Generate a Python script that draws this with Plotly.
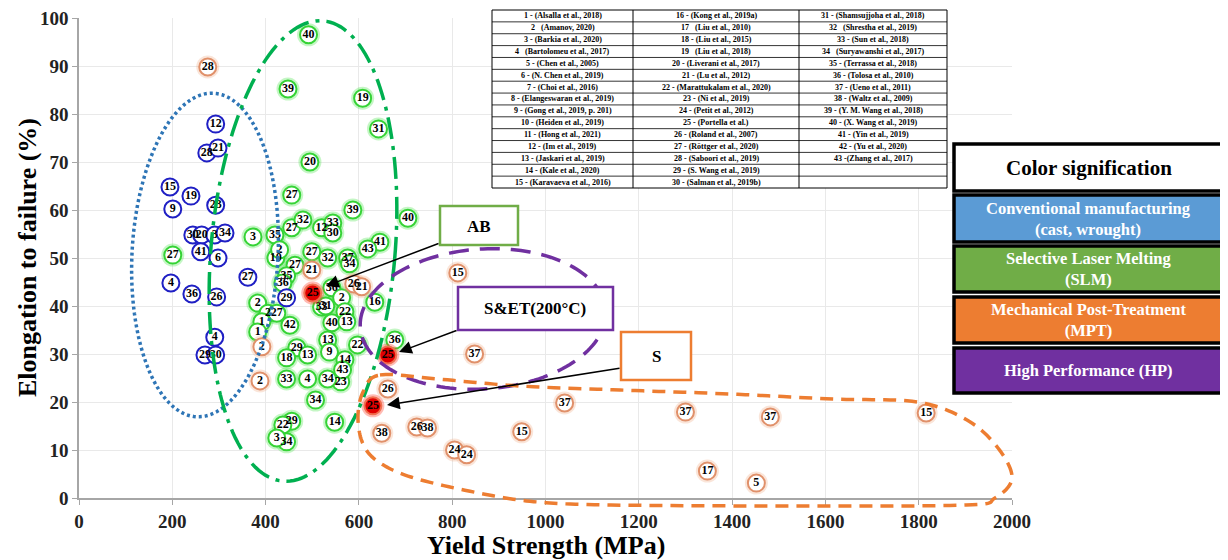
import numpy as np
import plotly.graph_objects as go

# ---------------- data (yield strength MPa, elongation %) ----------------
conv_x = [274, 298, 293, 195, 240, 201, 293, 244, 263, 291, 313, 261, 298, 362, 197, 242, 295, 291, 270, 293, 445]
conv_y = [71.9, 72.9, 77.9, 64.8, 62.9, 60.2, 61.0, 54.8, 54.8, 54.8, 55.2, 51.3, 50.0, 46.0, 44.8, 42.5, 41.9, 33.5, 29.8, 29.8, 41.7]
conv_lbl = ["28", "21", "12", "15", "19", "9", "23", "30", "20", "3", "34", "41", "6", "27", "4", "36", "26", "4", "29", "30", "29"]

slm_x = [492, 448, 608, 642, 495, 456, 587, 705, 373, 420, 456, 480, 520, 544, 544, 499, 533, 422, 430, 463,
         445, 437, 383, 405, 424, 392, 383, 452, 520, 542, 542, 533, 467, 490, 445, 537, 445, 490, 507, 548,
         456, 437, 445, 424, 561, 533, 645, 619, 576, 580, 634, 563, 570, 574, 597, 677, 570, 201, 565, 529]
slm_y = [96.5, 85.2, 83.3, 76.9, 70.0, 63.1, 60.0, 58.3, 54.4, 54.8, 56.3, 57.9, 56.3, 57.3, 55.2, 51.3, 50.0, 50.0, 51.7, 48.5,
         46.3, 44.8, 40.6, 38.5, 38.5, 36.7, 34.6, 36.0, 39.8, 43.8, 36.5, 32.9, 31.3, 29.8, 29.2, 30.4, 24.8, 24.8, 20.4, 15.8,
         16.0, 15.2, 11.7, 12.5, 24.2, 24.8, 53.3, 51.9, 50.0, 48.8, 40.8, 41.7, 38.8, 36.7, 31.9, 32.9, 28.8, 50.6, 26.7, 40.0]
slm_lbl = ["40", "39", "19", "31", "20", "27", "39", "40", "3", "35", "27", "32", "12", "33", "30", "27", "32", "10", "2", "27",
           "35", "36", "2", "2", "27", "1", "1", "42", "33", "36", "40", "13", "29", "13", "18", "9", "33", "4", "34", "14",
           "29", "22", "34", "3", "23", "34", "41", "43", "37", "34", "16", "2", "22", "13", "22", "36", "14", "27", "43", "31"]

mpt_x = [276, 392, 388, 499, 589, 606, 812, 848, 662, 649, 724, 747, 805, 831, 949, 1041, 1300, 1482, 1816, 1347, 1452]
mpt_y = [89.8, 31.5, 24.4, 47.5, 44.6, 44.0, 46.9, 30.0, 22.7, 13.5, 14.8, 14.6, 10.0, 9.0, 13.8, 19.8, 17.9, 16.9, 17.7, 5.6, 3.1]
mpt_lbl = ["28", "2", "2", "21", "26", "21", "15", "37", "26", "38", "26", "38", "24", "24", "15", "37", "37", "37", "15", "17", "5"]

hp_x = [501, 662, 630]
hp_y = [42.7, 29.8, 19.2]
hp_lbl = ["25", "25", "25"]

x_ticks = [0, 200, 400, 600, 800, 1000, 1200, 1400, 1600, 1800, 2000]
y_ticks = [0, 10, 20, 30, 40, 50, 60, 70, 80, 90, 100]

ref_col1 = ["1 - (Alsalla et al., 2018)", "2   (Amanov, 2020)", "3 - (Barkia et al., 2020)", "4   (Bartolomeu et al., 2017)",
            "5 - (Chen et al., 2005)", "6 - (N. Chen et al., 2019)", "7 - (Choi et al., 2016)", "8 - (Elangeswaran et al., 2019)",
            "9 - (Gong et al., 2019, p. 201)", "10 - (Heiden et al., 2019)", "11 - (Hong et al., 2021)", "12 - (Im et al., 2019)",
            "13 - (Jaskari et al., 2019)", "14 - (Kale et al., 2020)", "15 - (Karavaeva et al., 2016)"]
ref_col2 = ["16 - (Kong et al., 2019a)", "17   (Liu et al., 2010)", "18 - (Liu et al., 2015)", "19   (Liu et al., 2018)",
            "20 - (Liverani et al., 2017)", "21 - (Lu et al., 2012)", "22 - (Marattukalam et al., 2020)", "23 - (Ni et al., 2019)",
            "24 - (Petit et al., 2012)", "25 - (Portella et al.)", "26 - (Roland et al., 2007)", "27 - (Röttger et al., 2020)",
            "28 - (Saboori et al., 2019)", "29 - (S. Wang et al., 2019)", "30 - (Salman et al., 2019b)"]
ref_col3 = ["31 - (Shamsujjoha et al., 2018)", "32   (Shrestha et al., 2019)", "33 - (Sun et al., 2018)",
            "34   (Suryawanshi et al., 2017)", "35 - (Terrassa et al., 2018)", "36 - (Tolosa et al., 2010)",
            "37 - (Ueno et al., 2011)", "38 - (Waltz et al., 2009)", "39 - (Y. M. Wang et al., 2018)",
            "40 - (X. Wang et al., 2019)", "41 - (Yin et al., 2019)", "42 - (Yu et al., 2020)", "43 -(Zhang et al., 2017)", "", ""]

legend_title = "Color signification"
legend_items = ["Conventional manufacturing<br>(cast, wrought)", "Selective Laser Melting<br>(SLM)",
                "Mechanical Post-Treatment<br>(MPT)", "High Performance (HP)"]
legend_colors = ["#5b9bd5", "#70ad47", "#ed7d31", "#7030a0"]

# ---------------- layout geometry (page pixels; page body has an 8px margin) ----------------
OFF = 8
W, H = 1228 - OFF, 560 - OFF
L, R, T, B = 79, 1012, 18, 498
SERIF = "Liberation Serif"


def pp(px, py):
    return (px - L) / (R - L), (B - py) / (B - T)


def path_from(pts):
    conv = [pp(a, b) for a, b in pts]
    return "M " + " L ".join(f"{a:.5f},{b:.5f}" for a, b in conv) + " Z"


def ellipse(cx, cy, rx, ry, deg, n=160):
    th = np.radians(deg)
    pts = []
    for t in np.linspace(0, 2 * np.pi, n, endpoint=False):
        dx, dy = rx * np.cos(t), ry * np.sin(t)
        pts.append((cx + dx * np.cos(th) - dy * np.sin(th), cy + dx * np.sin(th) + dy * np.cos(th)))
    return path_from(pts)


def smooth_closed(ctrl, per=14):
    n = len(ctrl)
    out = []
    for i in range(n):
        p0, p1, p2, p3 = [np.array(ctrl[(i + k) % n], float) for k in (-1, 0, 1, 2)]
        for s in np.linspace(0, 1, per, endpoint=False):
            s2, s3 = s * s, s * s * s
            p = 0.5 * ((2 * p1) + (-p0 + p2) * s + (2 * p0 - 5 * p1 + 4 * p2 - p3) * s2 + (-p0 + 3 * p1 - 3 * p2 + p3) * s3)
            out.append((p[0], p[1]))
    return path_from(out)


fig = go.Figure()


def add_group(xs, ys, lbls, edge, fill, glow=None):
    if glow:
        fig.add_trace(go.Scatter(x=xs, y=ys, mode="markers", hoverinfo="skip", showlegend=False,
                                 marker=dict(size=23, color=glow, line=dict(width=0))))
    fig.add_trace(go.Scatter(x=xs, y=ys, mode="markers+text", text=lbls, textposition="middle center",
                             showlegend=False,
                             textfont=dict(family=SERIF, size=12, color="black", weight="bold"),
                             marker=dict(size=17, color=fill, line=dict(color=edge, width=2))))


add_group(slm_x, slm_y, slm_lbl, "#35d335", "white", glow="rgba(90,230,90,0.35)")
add_group(conv_x, conv_y, conv_lbl, "#1f1fc4", "white")
add_group(mpt_x, mpt_y, mpt_lbl, "#e0906a", "white", glow="rgba(240,170,130,0.3)")
add_group(hp_x, hp_y, hp_lbl, "#f07050", "#e00000", glow="rgba(255,60,40,0.35)")

shapes = []
# group ellipses
shapes.append(dict(type="path", xref="paper", yref="paper", path=ellipse(205, 255, 73, 162, 3),
                   line=dict(color="#2e75b6", width=3.5, dash="3px,3px")))
shapes.append(dict(type="path", xref="paper", yref="paper", path=ellipse(303, 251, 92, 231, 5),
                   line=dict(color="#00b050", width=3.5, dash="22px,7px,4px,7px")))
shapes.append(dict(type="path", xref="paper", yref="paper", path=ellipse(483, 319, 123, 70, -4),
                   line=dict(color="#7030a0", width=3.5, dash="20px,11px")))
orange_ctrl = [(380, 375), (437, 379), (520, 386), (620, 390), (730, 394), (833, 399), (917, 402), (967, 420),
               (998, 448), (1012, 478), (995, 498), (966, 505), (800, 506), (611, 505), (538, 502), (489, 495),
               (421, 480), (385, 466), (365, 448), (358, 420), (363, 392)]
shapes.append(dict(type="path", xref="paper", yref="paper", path=smooth_closed(orange_ctrl),
                   line=dict(color="#ed7d31", width=3.5, dash="13px,8px")))


def rect_px(x0, y0, x1, y1, **kw):
    a0, b0 = pp(x0, y1)
    a1, b1 = pp(x1, y0)
    d = dict(type="rect", xref="paper", yref="paper", x0=a0, y0=b0, x1=a1, y1=b1)
    d.update(kw)
    return d


def line_px(x0, y0, x1, y1, **kw):
    a0, b0 = pp(x0, y0)
    a1, b1 = pp(x1, y1)
    d = dict(type="line", xref="paper", yref="paper", x0=a0, y0=b0, x1=a1, y1=b1)
    d.update(kw)
    return d


annotations = []


def text_px(px, py, txt, size, color="black", **kw):
    a, b = pp(px, py)
    d = dict(x=a, y=b, xref="paper", yref="paper", text=txt, showarrow=False, xanchor="center", yanchor="middle",
             font=dict(family=SERIF, size=size, color=color, weight="bold"))
    d.update(kw)
    annotations.append(d)


def arrow_px(tx, ty, hx, hy):
    a, b = pp(hx, hy)
    annotations.append(dict(x=a, y=b, xref="paper", yref="paper", ax=tx - hx, ay=ty - hy, axref="pixel", ayref="pixel",
                            text="", showarrow=True, arrowhead=2, arrowsize=1.7, arrowwidth=1.5, arrowcolor="black"))


# callout boxes
shapes.append(rect_px(440, 206, 518, 245, fillcolor="white", line=dict(color="#70ad47", width=2.5)))
shapes.append(rect_px(458, 287, 613, 330, fillcolor="white", line=dict(color="#7030a0", width=2.5)))
shapes.append(rect_px(621, 332, 691, 380, fillcolor="white", line=dict(color="#ed7d31", width=2.5)))
text_px(479, 226, "AB", 17)
text_px(535, 308, "S&ET(200°C)", 17)
text_px(656, 356, "S", 17)
arrow_px(440, 243, 326, 286)
arrow_px(458, 330, 399, 352)
arrow_px(621, 368, 387, 405)

# reference table
tx_edges = [492, 633, 799, 947]
ty0, ty1 = 10, 188
nrow = 15
rh = (ty1 - ty0) / nrow
shapes.append(rect_px(tx_edges[0], ty0, tx_edges[-1], ty1, fillcolor="white", line=dict(color="black", width=1)))
for xe in tx_edges[1:-1]:
    shapes.append(line_px(xe, ty0, xe, ty1, line=dict(color="black", width=1)))
for i in range(1, nrow):
    yl = ty0 + i * rh
    shapes.append(line_px(tx_edges[0], yl, tx_edges[-1], yl, line=dict(color="black", width=0.8)))
for c, col in enumerate([ref_col1, ref_col2, ref_col3]):
    cx = (tx_edges[c] + tx_edges[c + 1]) / 2
    for i, s in enumerate(col):
        if s:
            text_px(cx, ty0 + (i + 0.5) * rh, s, 8)

# colour legend
lx0, lx1 = 954, 1223
shapes.append(rect_px(lx0, 144, lx1, 191, fillcolor="white", line=dict(color="black", width=3.5)))
text_px((lx0 + lx1) / 2, 168, legend_title, 21)
box_rows = [(195, 242), (246, 292), (297, 343), (348, 393)]
for (y0, y1), col, lab in zip(box_rows, legend_colors, legend_items):
    shapes.append(rect_px(lx0, y0, lx1, y1, fillcolor=col, line=dict(color="black", width=3.5)))
    text_px((lx0 + lx1) / 2, (y0 + y1) / 2, lab, 16.5, color="white")

# axis titles
text_px((L + R) / 2, 545, "Yield Strength (MPa)", 26)
text_px(27, 258, "Elongation to failure (%)", 26, textangle=-90)

axis_common = dict(showgrid=True, gridcolor="#e9e9e9", gridwidth=1, showline=True, linecolor="#a6a6a6",
                   linewidth=1.5, ticks="outside", ticklen=5, tickcolor="#a6a6a6", zeroline=False,
                   ticklabeloverflow="allow",
                   tickfont=dict(family=SERIF, size=19, color="#222", weight="bold"), automargin=False)

fig.update_layout(
    width=W, height=H,
    margin=dict(l=L - OFF, r=W - (R - OFF), t=T - OFF, b=H - (B - OFF), pad=0),
    paper_bgcolor="white", plot_bgcolor="white",
    xaxis=dict(range=[0, 2000], tickvals=x_ticks, ticktext=[str(v) for v in x_ticks], **axis_common),
    yaxis=dict(range=[0, 100], tickvals=y_ticks, ticktext=[str(v) for v in y_ticks], **axis_common),
    shapes=shapes, annotations=annotations, showlegend=False,
)

fig.write_html("out.html")
